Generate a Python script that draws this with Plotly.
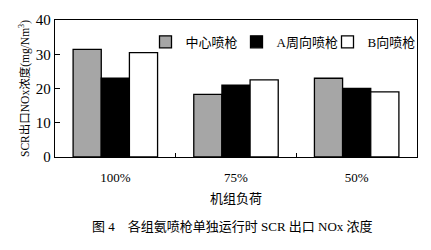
import plotly.graph_objects as go

categories = ["100%", "75%", "50%"]
center = [31.4, 18.3, 23.0]
a_dir = [23.0, 21.0, 20.0]
b_dir = [30.5, 22.5, 19.0]
series_names = ["中心喷枪", "A周向喷枪", "B向喷枪"]

FONT = "Liberation Serif, Noto Sans CJK SC, serif"

fig = go.Figure()
for name, vals, col in zip(series_names, [center, a_dir, b_dir], ["#a6a6a6", "#000000", "#ffffff"]):
    fig.add_trace(go.Bar(x=categories, y=vals, name=name,
                         marker=dict(color=col, line=dict(color="black", width=1.3))))

fig.update_layout(
    width=431, height=250,
    margin=dict(l=55, r=14, t=18, b=93),
    paper_bgcolor="white", plot_bgcolor="white",
    barmode="group", bargap=0.3, bargroupgap=0,
    font=dict(family=FONT, size=13, color="black"),
    showlegend=True,
    legend=dict(orientation="h", x=0.25, y=0.84, xanchor="left", yanchor="middle",
                bgcolor="rgba(0,0,0,0)", font=dict(size=13, family=FONT),
                entrywidth=46, entrywidthmode="pixels", itemwidth=30,
                tracegroupgap=0),
    xaxis=dict(showline=True, linecolor="black", linewidth=1.3, mirror=True,
               ticks="inside", ticklen=4, tickson="boundaries", tickcolor="black",
               tickfont=dict(size=13), ticklabelstandoff=8,
               title=dict(text="机组负荷", font=dict(size=13), standoff=10)),
    yaxis=dict(range=[0, 40], dtick=10, showline=True, linecolor="black", linewidth=1.3,
               mirror=True, ticks="inside", ticklen=5, tickcolor="black", showgrid=False,
               zeroline=False, tickfont=dict(size=15),
               title=dict(text="SCR出口NOx浓度(mg/Nm<sup>3</sup>)", font=dict(size=11.5), standoff=3)),
)

fig.add_annotation(text="图 4　各组氨喷枪单独运行时 SCR 出口 NOx 浓度",
                   xref="paper", yref="paper", x=0.49, y=-0.505,
                   showarrow=False, font=dict(size=13, family=FONT), xanchor="center", yanchor="middle")

fig.write_html("out.html")
